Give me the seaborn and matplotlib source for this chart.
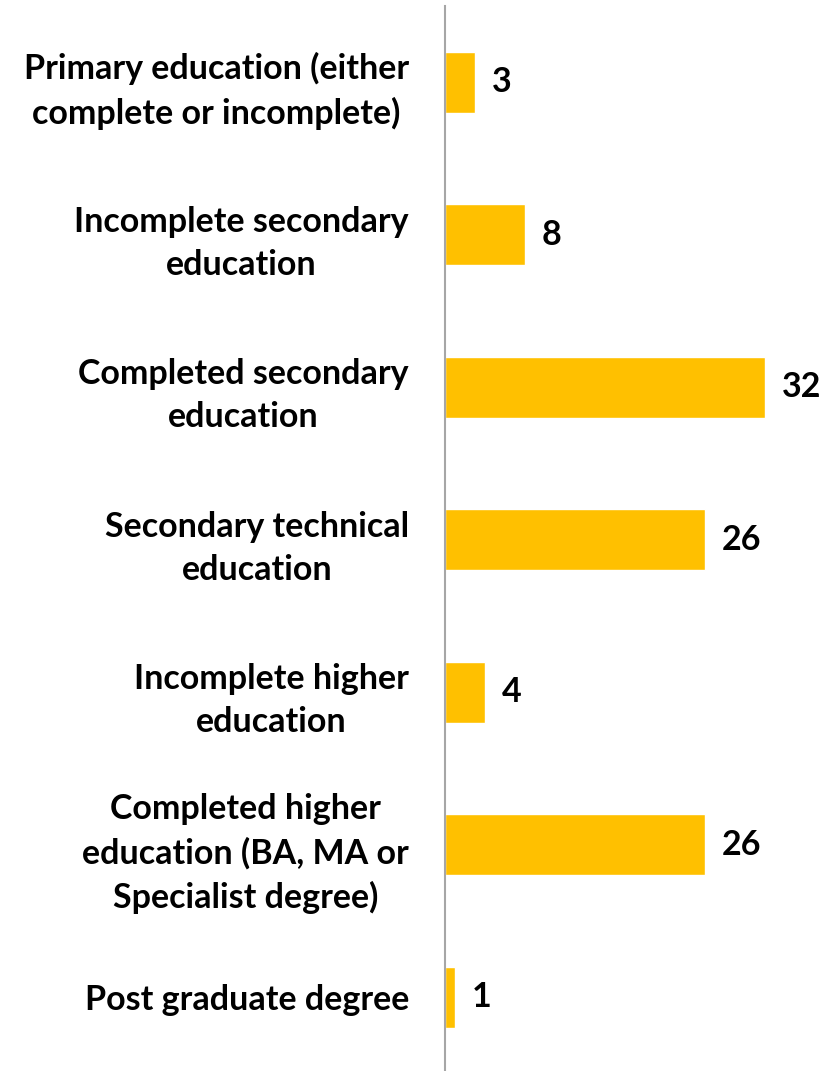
import matplotlib
matplotlib.use('Agg')
import matplotlib.pyplot as plt
import seaborn as sns
import pandas as pd

# Education levels and shares (%)
categories = [
    'Primary education (either\ncomplete or incomplete)',
    'Incomplete secondary\neducation',
    'Completed secondary\neducation',
    'Secondary technical\neducation',
    'Incomplete higher\neducation',
    'Completed higher\neducation (BA, MA or\nSpecialist degree)',
    'Post graduate degree',
]
values = [3, 8, 32, 26, 4, 26, 1]

df = pd.DataFrame({'Education': categories, 'Share': values})

sns.set_style('white')
plt.rcParams['font.family'] = ['Lato', 'DejaVu Sans']

fig = plt.figure(figsize=(8.21, 10.71), dpi=100)
ax = fig.add_axes([445 / 821, -2.5 / 1071, 376 / 821, 1067.5 / 1071])

sns.barplot(data=df, y='Education', x='Share', orient='h', color='#FFC000',
            saturation=1, width=0.4, ax=ax)

ax.set_xlim(0, 37.6)
ax.set_ylim(6.5, -0.5)
ax.set_xlabel('')
ax.set_ylabel('')
ax.set_xticks([])

for lab in ax.get_yticklabels():
    lab.set_fontsize(24.5)
    lab.set_fontweight('bold')
    lab.set_color('black')
    lab.set_multialignment('center')
    lab.set_linespacing(1.42)
ax.tick_params(axis='y', length=0, pad=26)

ax.bar_label(ax.containers[0], labels=[str(v) for v in values], padding=12,
             fontsize=24.5, fontweight='bold', color='black')

for side in ['top', 'right', 'bottom']:
    ax.spines[side].set_visible(False)
ax.spines['left'].set_color('#A6A6A6')
ax.spines['left'].set_linewidth(1.5)

fig.savefig('out.png', dpi=100)
